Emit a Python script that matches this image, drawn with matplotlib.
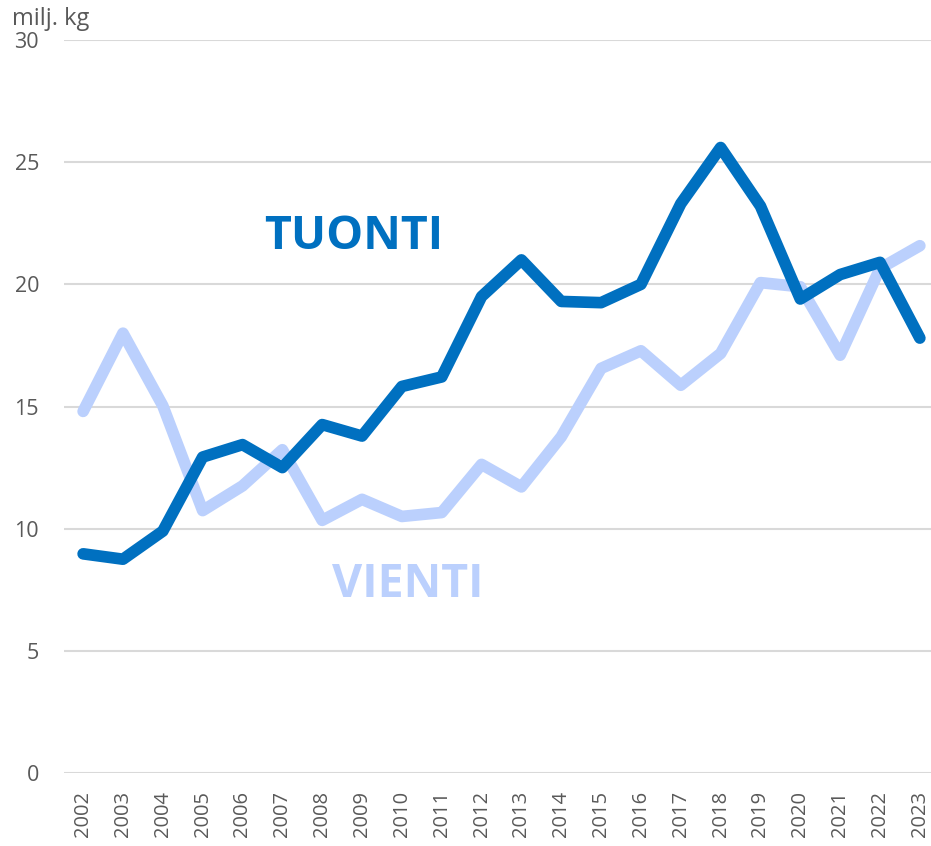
import matplotlib
matplotlib.use('Agg')
import matplotlib.pyplot as plt

plt.rcParams['font.family'] = ['Open Sans', 'DejaVu Sans']

# ── Data ────────────────────────────────────────────────
years = list(range(2002, 2024))
tuonti = [8.97, 8.75, 9.9, 12.93, 13.44, 12.5, 14.26, 13.79, 15.82, 16.21, 19.5,
          21.0, 19.3, 19.25, 20.0, 23.3, 25.6, 23.2, 19.4, 20.4, 20.9, 17.8]
vienti = [14.8, 18.0, 15.03, 10.74, 11.75, 13.23, 10.34, 11.2, 10.5, 10.66, 12.63,
          11.71, 13.76, 16.56, 17.28, 15.87, 17.17, 20.07, 19.9, 17.1, 20.65, 21.58]
yticks = [0, 5, 10, 15, 20, 25, 30]

C_DARK = '#0070C0'
C_LIGHT = '#BBD0FD'
C_GRID = '#D9D9D9'
C_TEXT = '#595959'

fig = plt.figure(figsize=(9.31, 8.46), dpi=100)
fig.patch.set_facecolor('white')
ax = fig.add_axes([64/931, 1 - 773/846, 1 - 64/931, (773 - 40)/846])

ax.plot(years, vienti, color=C_LIGHT, lw=8.4, solid_capstyle='round', solid_joinstyle='round', zorder=3)
ax.plot(years, tuonti, color=C_DARK, lw=8.4, solid_capstyle='round', solid_joinstyle='round', zorder=4)

ax.set_xlim(2001.52, 2023.28)
ax.set_ylim(0, 30)
ax.set_yticks(yticks)
ax.set_xticks(years)
ax.set_xticklabels([str(y) for y in years], rotation=90, fontsize=14.5, color=C_TEXT)
ax.set_yticklabels([str(v) for v in yticks], fontsize=15.5, color=C_TEXT)
ax.tick_params(axis='y', length=0, pad=18)
ax.tick_params(axis='x', length=0, pad=13)
for s in ax.spines.values():
    s.set_visible(False)
ax.grid(axis='y', color=C_GRID, lw=1.5, zorder=0)
ax.set_axisbelow(True)

ax.text(2008.79, 21.94, 'TUONTI', color=C_DARK, fontsize=33.5, fontweight='bold', ha='center', va='center')
ax.text(2010.14, 7.7, 'VIENTI', color=C_LIGHT, fontsize=33.5, fontweight='bold', ha='center', va='center')

fig.text(12/931, 1 - 19/846, 'milj. kg', fontsize=17, color=C_TEXT, ha='left', va='center')

fig.savefig('out.png', dpi=100, facecolor='white')
